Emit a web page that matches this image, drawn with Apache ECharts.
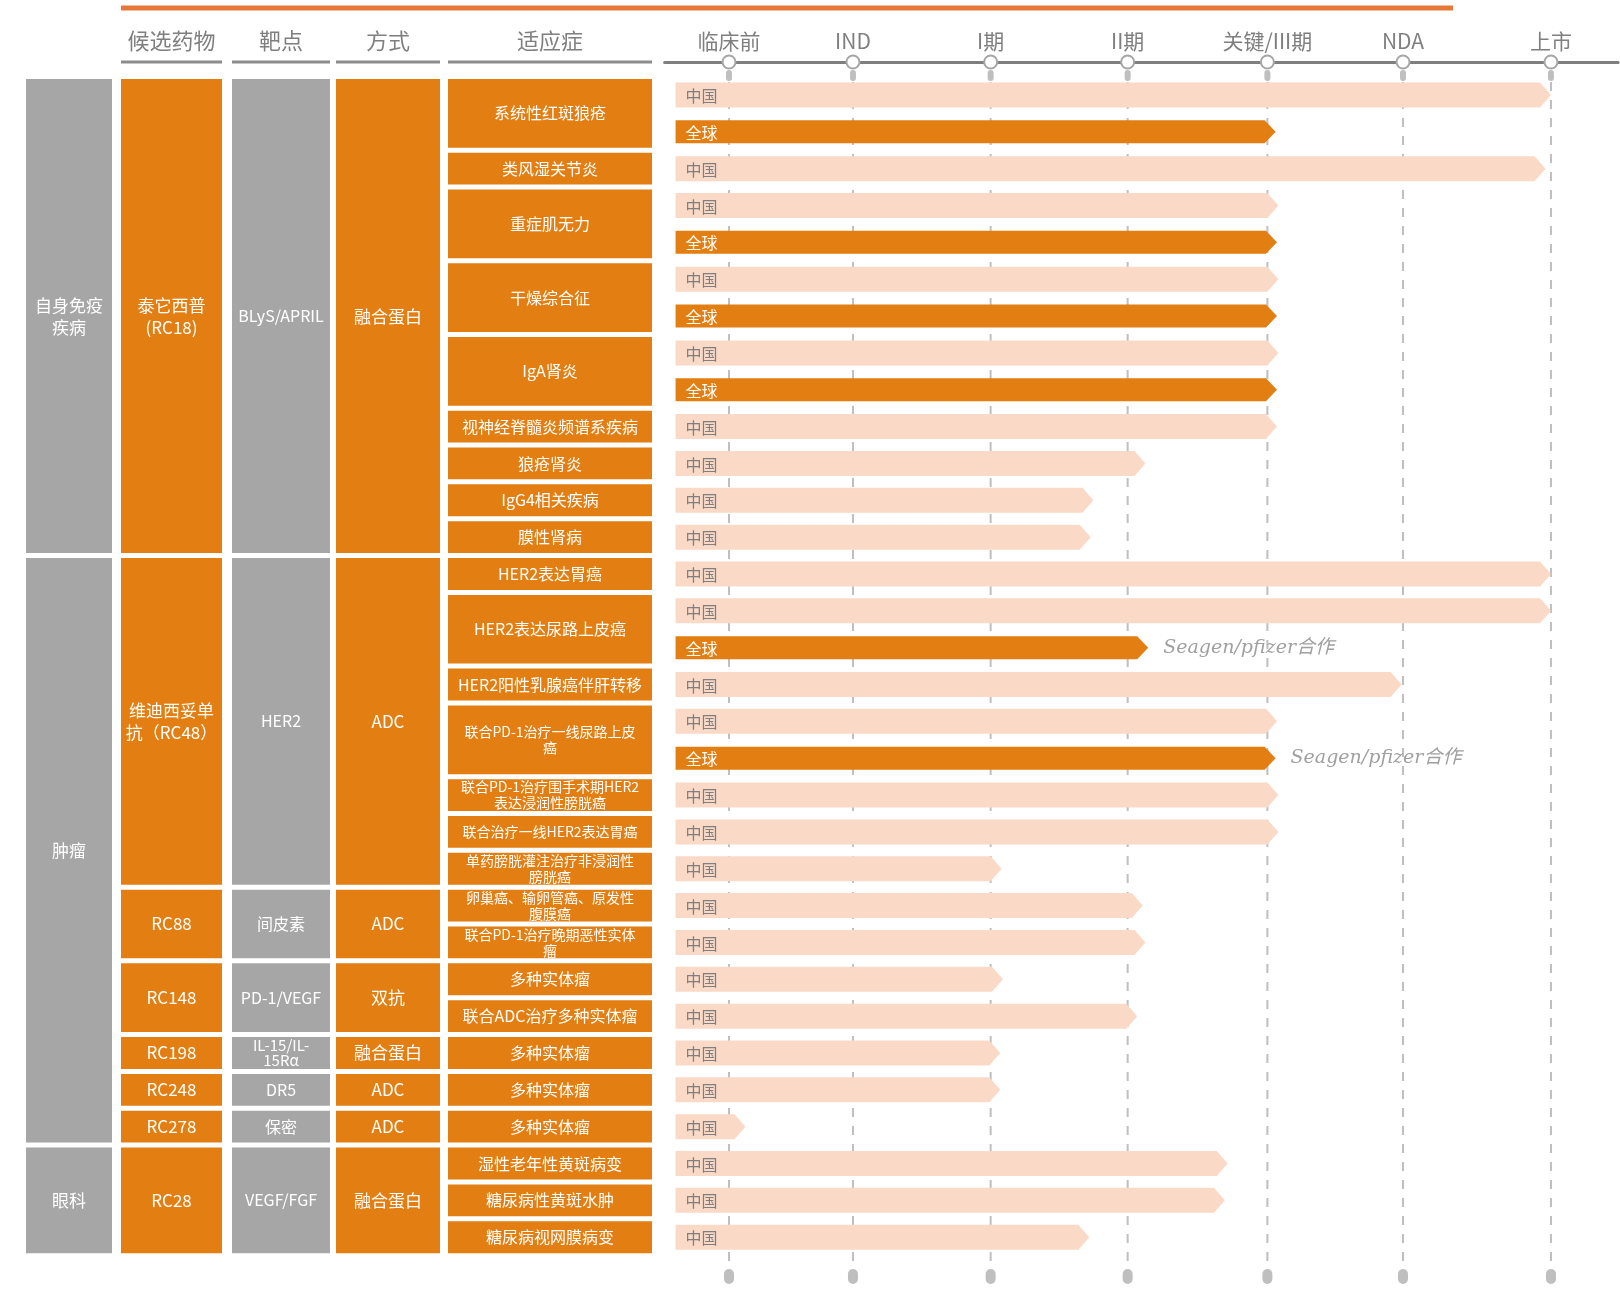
<!DOCTYPE html>
<html>
<head>
<meta charset="utf-8">
<script src="https://cdn.jsdelivr.net/npm/echarts@6/dist/echarts.min.js"></script>
<style>
html,body{margin:0;padding:0;background:#ffffff;}
#chart{width:1620px;height:1294px;}
</style>
</head>
<body>
<div id="chart"></div>
<script>
// ================= DATA =================
const stages = ['临床前', 'IND', 'I期', 'II期', '关键/III期', 'NDA', '上市'];
// where each milestone sits on the timeline (stage units)
const stageMarks = [0, 0.905, 1.91, 2.91, 3.93, 4.92, 6];
const tableHeaders = ['候选药物', '靶点', '方式', '适应症'];

const areas = ['自身免疫\n疾病', '肿瘤', '眼科'];
const areaIndicationCounts = [9, 14, 3];

const drugs = ['泰它西普\n(RC18)', '维迪西妥单\n抗（RC48）', 'RC88', 'RC148', 'RC198', 'RC248', 'RC278', 'RC28'];
const drugIndicationCounts = [9, 7, 2, 2, 1, 1, 1, 3];
const targets = ['BLyS/APRIL', 'HER2', '间皮素', 'PD-1/VEGF', 'IL-15/IL-\n15Rα', 'DR5', '保密', 'VEGF/FGF'];
const modalities = ['融合蛋白', 'ADC', 'ADC', '双抗', '融合蛋白', 'ADC', 'ADC', '融合蛋白'];

const indications = [
  '系统性红斑狼疮', '类风湿关节炎', '重症肌无力', '干燥综合征', 'IgA肾炎',
  '视神经脊髓炎频谱系疾病', '狼疮肾炎', 'IgG4相关疾病', '膜性肾病',
  'HER2表达胃癌', 'HER2表达尿路上皮癌', 'HER2阳性乳腺癌伴肝转移',
  '联合PD-1治疗一线尿路上皮癌', '联合PD-1治疗围手术期HER2表达浸润性膀胱癌',
  '联合治疗一线HER2表达胃癌', '单药膀胱灌注治疗非浸润性膀胱癌',
  '卵巢癌、输卵管癌、原发性腹膜癌', '联合PD-1治疗晚期恶性实体瘤',
  '多种实体瘤', '联合ADC治疗多种实体瘤', '多种实体瘤', '多种实体瘤', '多种实体瘤',
  '湿性老年性黄斑病变', '糖尿病性黄斑水肿', '糖尿病视网膜病变'
];

// regions per indication (one bar each)
const regions = [
  ['中国', '全球'], ['中国'], ['中国', '全球'], ['中国', '全球'], ['中国', '全球'],
  ['中国'], ['中国'], ['中国'], ['中国'],
  ['中国'], ['中国', '全球'], ['中国'], ['中国', '全球'], ['中国'],
  ['中国'], ['中国'], ['中国'], ['中国'],
  ['中国'], ['中国'], ['中国'], ['中国'], ['中国'],
  ['中国'], ['中国'], ['中国']
];

// progress reached (stage units, arrow tip position)
const stageReached = [
  [6.0, 3.99], [5.96], [4.01, 4.0], [4.01, 4.0], [4.01, 4.0],
  [4.0], [3.04], [2.66], [2.64],
  [6.0], [6.0, 3.06], [4.91], [4.0, 3.99], [4.01],
  [4.01], [1.99], [3.02], [3.04],
  [2.0], [2.98], [1.98], [1.98], [0.12],
  [3.64], [3.62], [2.63]
];

const partnerNotes = [
  { indication: 10, region: '全球', text: 'Seagen/pfizer合作' },
  { indication: 12, region: '全球', text: 'Seagen/pfizer合作' }
];

const barStart = -0.39;

// ================= STYLE / LAYOUT =================
const FONT = '"Noto Sans CJK SC", "Noto Sans", sans-serif';
const ORANGE = '#E27E12';
const GREY = '#A6A6A6';
const PEACH = '#FAD9C7';
const X_MIN = -0.47, X_MAX = 6.49;
const Y_MIN = -0.895, Y_MAX = 32.08;
const GRID_TOP = 62, GRID_BOTTOM = 17;
const TL_LEFT = 664.6, TL_WIDTH = 953.5;

const columns = [
  { x: 26, w: 86, color: GREY },
  { x: 121, w: 101, color: ORANGE },
  { x: 232, w: 98, color: GREY },
  { x: 336, w: 104, color: ORANGE },
  { x: 448, w: 204, color: ORANGE }
];
const regionStyle = {
  '中国': { fill: PEACH, text: '#7F7F7F', h: 25 },
  '全球': { fill: ORANGE, text: '#FFFFFF', h: 23 }
};

// ================= DERIVED ROWS =================
const barRows = [];
const indFirst = [], indLast = [];
let rowCursor = 0;
indications.forEach((name, i) => {
  indFirst[i] = rowCursor;
  regions[i].forEach((reg, k) => {
    barRows.push({ row: rowCursor, ind: i, region: reg, end: stageReached[i][k] });
    rowCursor++;
  });
  indLast[i] = rowCursor - 1;
});

function groupCells(labels, counts, col) {
  let idx = 0;
  return labels.map((t, g) => {
    const first = indFirst[idx];
    idx += counts[g];
    const last = indLast[idx - 1];
    return { col: col, first: first, last: last, text: t };
  });
}
const tableCells = [].concat(
  groupCells(areas, areaIndicationCounts, 0),
  groupCells(drugs, drugIndicationCounts, 1),
  groupCells(targets, drugIndicationCounts, 2),
  groupCells(modalities, drugIndicationCounts, 3),
  indications.map((t, i) => ({ col: 4, first: indFirst[i], last: indLast[i], text: t }))
);

const mctx = document.createElement('canvas').getContext('2d');
function textWidth(t, size) {
  mctx.font = size + 'px ' + FONT;
  return mctx.measureText(t).width;
}

// ================= RENDERERS =================
function renderCell(params, api) {
  const c = tableCells[params.dataIndex];
  const col = columns[c.col];
  const pitch = api.size([0, 1])[1];
  const half = pitch / 2 - 2.5;
  const yTop = api.coord([0, api.value(1)])[1] - half;
  const yBot = api.coord([0, api.value(2)])[1] + half;
  const cellH = yBot - yTop;
  let size = 17, width = col.w - 6, lh = 22;
  if (c.col === 4) {
    if (textWidth(c.text, 16) <= 192) { size = 16; lh = 20; }
    else { size = 14; width = 178; lh = 16; }
  } else if (c.col === 2) {
    size = 16;
  }
  if (c.text.indexOf('\n') >= 0 && cellH < 50) { size = 15; lh = 15; }
  return {
    type: 'group',
    children: [
      { type: 'rect', shape: { x: col.x, y: yTop, width: col.w, height: cellH },
        style: { fill: col.color } },
      { type: 'text', x: col.x + col.w / 2, y: (yTop + yBot) / 2,
        style: { text: c.text, fill: '#FFFFFF', font: size + 'px ' + FONT,
          align: 'center', verticalAlign: 'middle', width: width, overflow: 'break', lineHeight: lh } }
    ]
  };
}

function renderStage(params, api) {
  const v = api.value(0);
  const top = api.coord([v, Y_MIN]);
  const bottom = api.coord([v, Y_MAX]);
  const x = top[0];
  return {
    type: 'group',
    children: [
      { type: 'line', shape: { x1: x, y1: top[1] + 20, x2: x, y2: bottom[1] - 10 },
        style: { stroke: '#BFBFBF', lineWidth: 2, lineDash: [9, 9] } },
      { type: 'rect', shape: { x: x - 3, y: top[1] + 8, width: 6, height: 11, r: 3 },
        style: { fill: '#BFBFBF' } },
      { type: 'circle', shape: { cx: x, cy: top[1], r: 6.5 },
        style: { fill: '#FFFFFF', stroke: '#A6A6A6', lineWidth: 2 } },
      { type: 'text', x: x, y: top[1] - 21,
        style: { text: stages[params.dataIndex], fill: '#7F7F7F', font: '21px ' + FONT,
          align: 'center', verticalAlign: 'middle' } },
      { type: 'rect', shape: { x: x - 5, y: bottom[1] - 8, width: 10, height: 15, r: 5 },
        style: { fill: '#BFBFBF' } }
    ]
  };
}

function renderBar(params, api) {
  const b = barRows[params.dataIndex];
  const st = regionStyle[b.region];
  const p0 = api.coord([barStart, api.value(1)]);
  const p1 = api.coord([api.value(0), api.value(1)]);
  const h = st.h, y = p0[1], tip = 11;
  const children = [
    { type: 'polygon',
      shape: { points: [[p0[0], y - h / 2], [p1[0] - tip, y - h / 2], [p1[0], y],
        [p1[0] - tip, y + h / 2], [p0[0], y + h / 2]] },
      style: { fill: st.fill } },
    { type: 'text', x: p0[0] + 10, y: y + 1,
      style: { text: b.region, fill: st.text, font: '16px ' + FONT, verticalAlign: 'middle' } }
  ];
  partnerNotes.forEach(n => {
    if (n.indication === b.ind && n.region === b.region) {
      children.push({ type: 'text', x: p1[0] + 15, y: y,
        style: { text: n.text, fill: '#A0A0A0', font: 'italic 19px "DejaVu Serif", ' + FONT,
          verticalAlign: 'middle' } });
    }
  });
  return { type: 'group', children: children };
}

// ================= GRAPHIC (headers) =================
const graphicEls = [
  { type: 'line', shape: { x1: 121, y1: 8, x2: 1453, y2: 8 },
    style: { stroke: '#E4793A', lineWidth: 5 } }
];
tableHeaders.forEach((t, k) => {
  const col = columns[k + 1];
  graphicEls.push({ type: 'text', x: col.x + col.w / 2, y: 41,
    style: { text: t, fill: '#7F7F7F', font: '22px ' + FONT, align: 'center', verticalAlign: 'middle' } });
  graphicEls.push({ type: 'line', shape: { x1: col.x, y1: GRID_TOP, x2: col.x + col.w, y2: GRID_TOP },
    style: { stroke: '#8C8C8C', lineWidth: 3 } });
});

// ================= OPTION =================
const chart = echarts.init(document.getElementById('chart'), null, { renderer: 'canvas' });
chart.setOption({
  backgroundColor: '#FFFFFF',
  animation: false,
  graphic: { elements: graphicEls },
  grid: [
    { left: 0, width: 660, top: GRID_TOP, bottom: GRID_BOTTOM },
    { left: TL_LEFT, width: TL_WIDTH, top: GRID_TOP, bottom: GRID_BOTTOM }
  ],
  xAxis: [
    { gridIndex: 0, type: 'value', min: 0, max: 1, show: false },
    { gridIndex: 1, type: 'value', min: X_MIN, max: X_MAX, position: 'top',
      axisLine: { show: true, onZero: false, lineStyle: { color: '#7F7F7F', width: 3 } },
      axisTick: { show: false }, axisLabel: { show: false }, splitLine: { show: false } }
  ],
  yAxis: [
    { gridIndex: 0, type: 'value', min: Y_MIN, max: Y_MAX, inverse: true, show: false },
    { gridIndex: 1, type: 'value', min: Y_MIN, max: Y_MAX, inverse: true, show: false }
  ],
  series: [
    { type: 'custom', name: 'table', xAxisIndex: 0, yAxisIndex: 0, z: 2,
      encode: { x: 0, y: 1 },
      data: tableCells.map(c => [c.col, c.first, c.last]),
      renderItem: renderCell },
    { type: 'custom', name: 'stages', xAxisIndex: 1, yAxisIndex: 1, z: 3,
      encode: { x: 0, y: 1 },
      data: stageMarks.map(v => [v, Y_MIN]),
      renderItem: renderStage },
    { type: 'custom', name: 'progress', xAxisIndex: 1, yAxisIndex: 1, z: 4,
      encode: { x: 0, y: 1 },
      data: barRows.map(b => [b.end, b.row]),
      renderItem: renderBar }
  ]
});
</script>
</body>
</html>
